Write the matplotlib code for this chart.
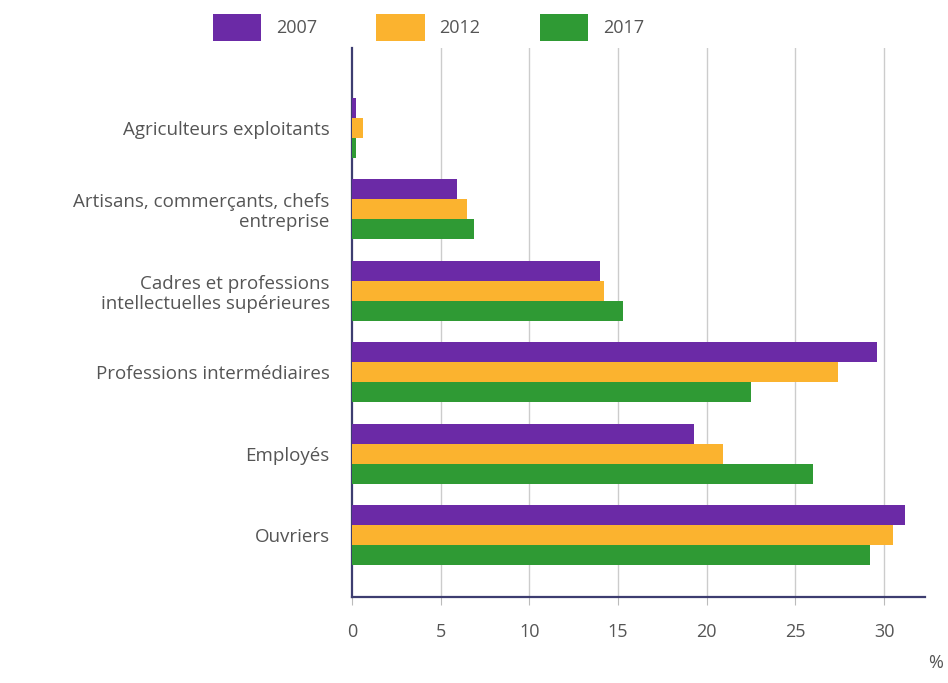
import matplotlib
matplotlib.use("Agg")
import matplotlib.pyplot as plt
import numpy as np

plt.rcParams['font.family'] = ['Open Sans', 'DejaVu Sans']

categories = ["Agriculteurs exploitants",
              "Artisans, commerçants, chefs\nentreprise",
              "Cadres et professions\nintellectuelles supérieures",
              "Professions intermédiaires",
              "Employés",
              "Ouvriers"]
years = ["2007", "2012", "2017"]
v2007 = [0.2, 5.9, 14.0, 29.6, 19.3, 31.2]
v2012 = [0.6, 6.5, 14.2, 27.4, 20.9, 30.5]
v2017 = [0.2, 6.9, 15.3, 22.5, 26.0, 29.2]
xticks = [0, 5, 10, 15, 20, 25, 30]
colors = ["#6b2aa6", "#fbb32f", "#2f9a34"]

fig = plt.figure(figsize=(9.48, 6.83), dpi=100)
ax = fig.add_axes([0.3713, 0.1259, 0.6044, 0.8038])

y = np.arange(len(categories))
h = 0.245
for i, (vals, c, lab) in enumerate(zip([v2007, v2012, v2017], colors, years)):
    ax.barh(y + (i - 1) * h, vals, height=h, color=c, label=lab, zorder=3)

ax.set_xlim(0, 32.3)
ax.set_ylim(5.76, -0.98)
ax.set_yticks(y)
ax.set_yticklabels(categories, ha='right', fontsize=13.5, color='#555555', linespacing=1.15)
ax.tick_params(axis='y', length=0, pad=16)
ax.set_xticks(xticks)
ax.set_xticklabels([str(t) for t in xticks], fontsize=13, color='#555555')
ax.tick_params(axis='x', length=6, color='#bbbbbb', pad=13, direction='out')
for t in xticks[1:]:
    ax.axvline(t, color='#cccccc', lw=1, zorder=1)

for s in ['top', 'right']:
    ax.spines[s].set_visible(False)
ax.spines['left'].set_color('#3d3d70')
ax.spines['left'].set_linewidth(1.6)
ax.spines['bottom'].set_color('#3d3d70')
ax.spines['bottom'].set_linewidth(1.6)

fig.text(0.987, 0.022, "%", fontsize=13, color='#555555', ha='center')

leg = fig.legend(loc='center', bbox_to_anchor=(0.452, 0.960), ncol=3, frameon=False,
                 fontsize=13, handlelength=2.66, handleheight=1.9, columnspacing=3.3,
                 handletextpad=0.83, labelcolor='#555555')

fig.savefig("out.png", dpi=100)
